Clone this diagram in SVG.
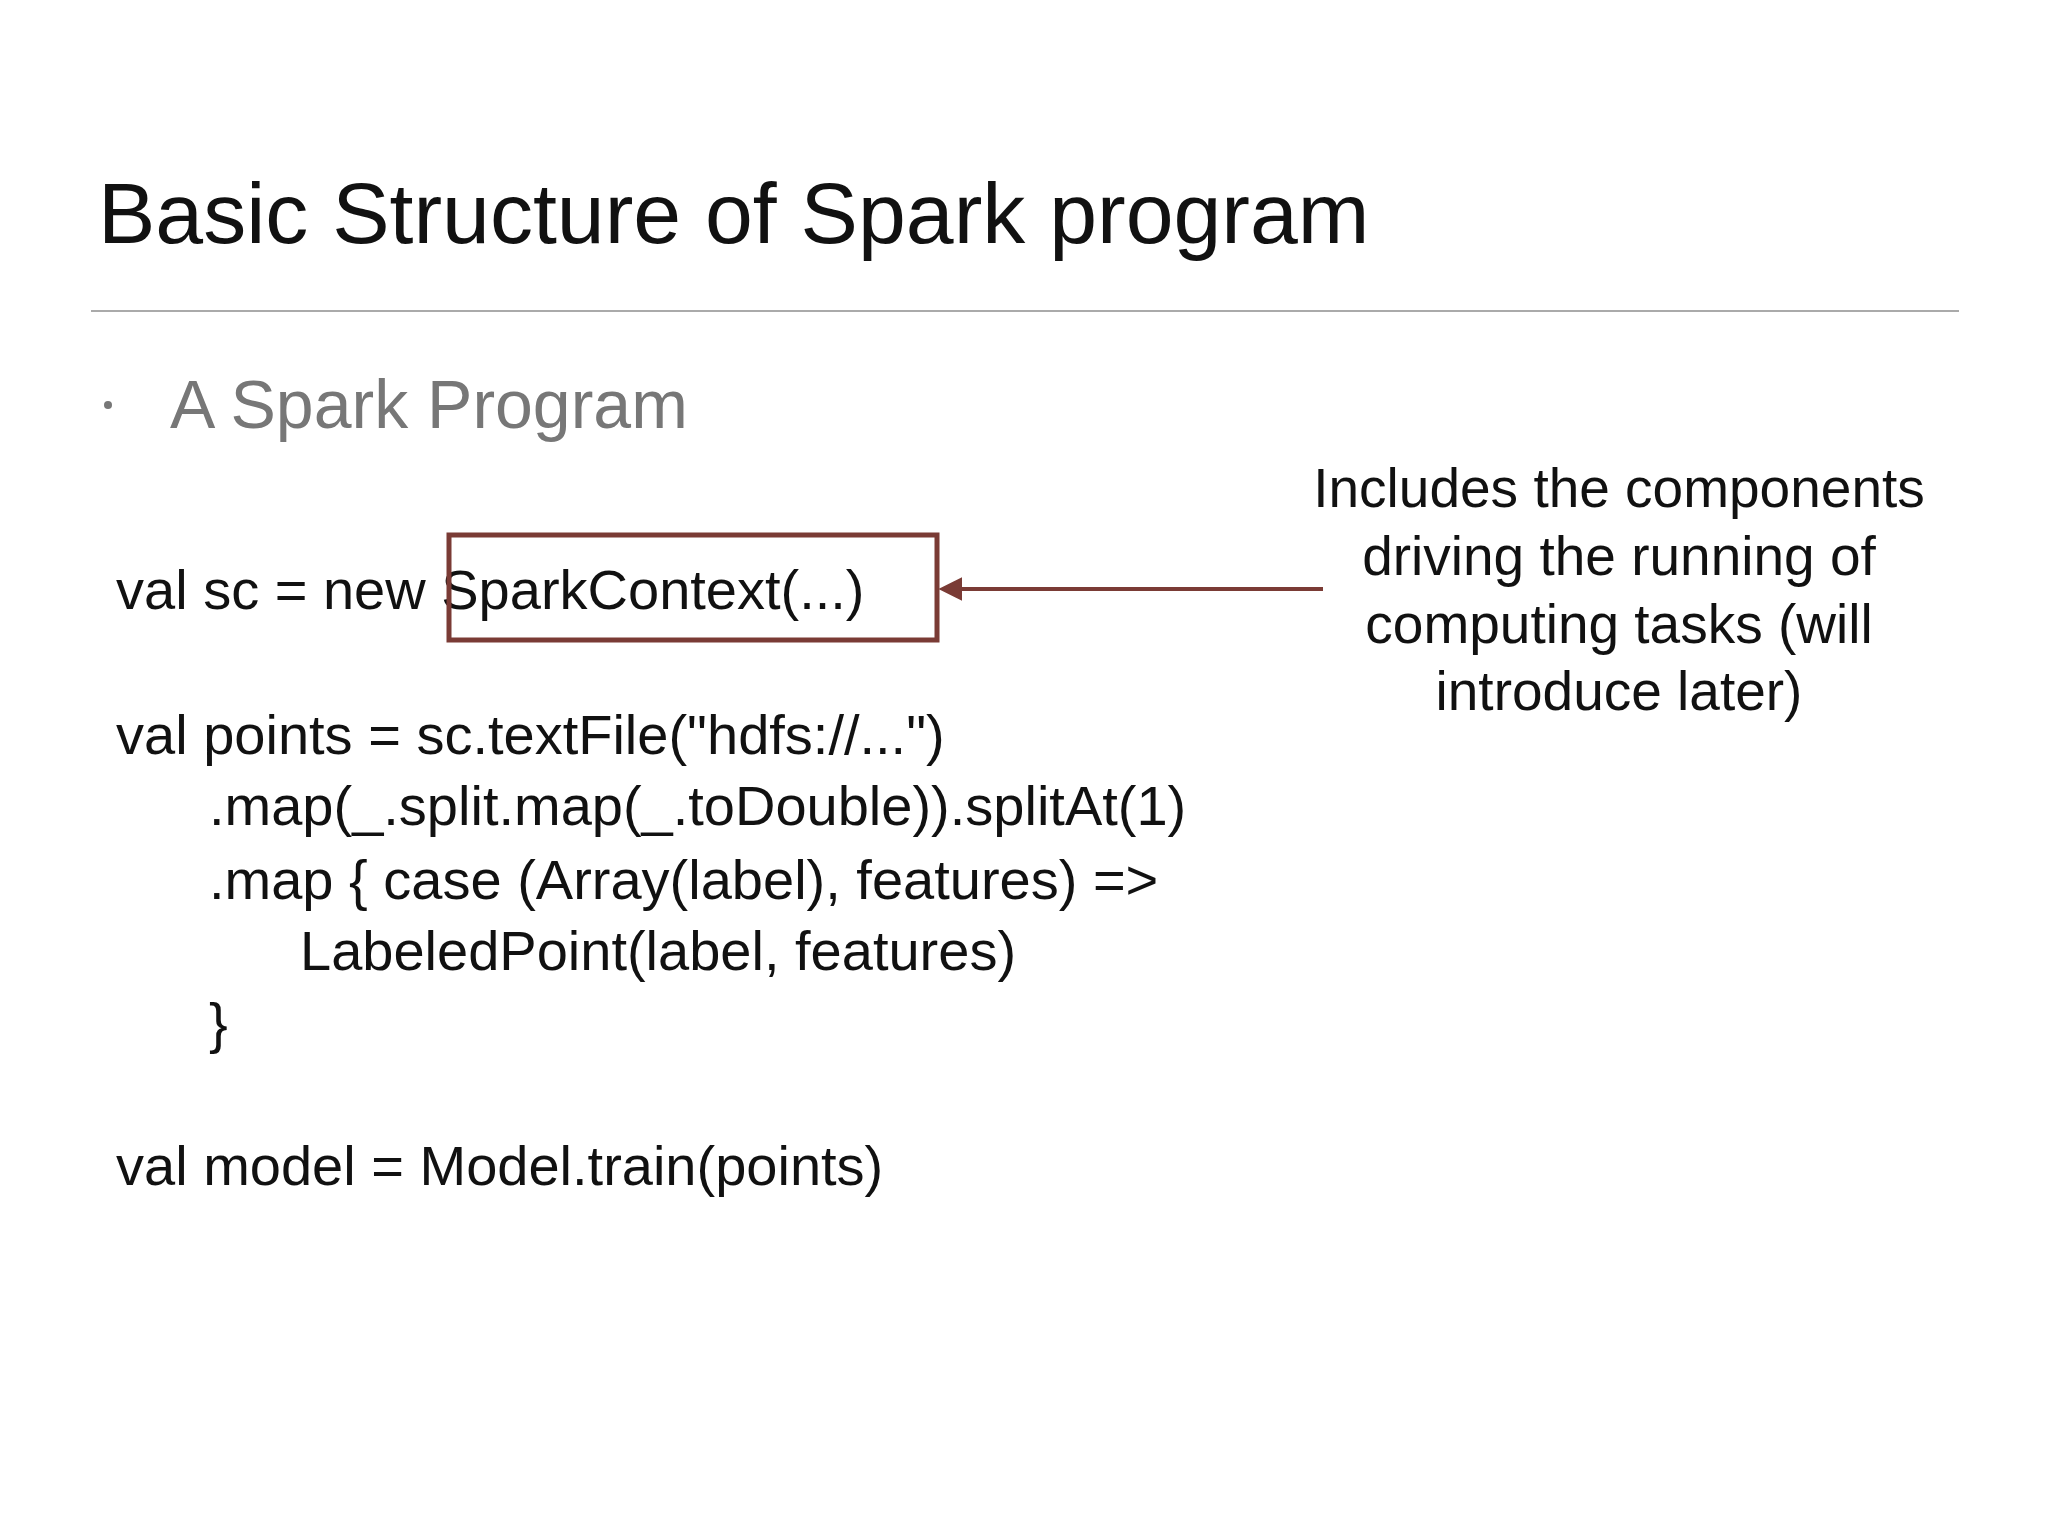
<svg xmlns="http://www.w3.org/2000/svg" width="2048" height="1536" viewBox="0 0 2048 1536">
<defs>
<style>
text{font-family:"Liberation Sans",Arial,sans-serif}
.code{font-size:56px;fill:#111}
.note{font-size:55px;fill:#111;text-anchor:middle}
</style>
<marker id="ah" viewBox="0 0 10 10" refX="1" refY="5" markerWidth="6" markerHeight="6" orient="auto-start-reverse" markerUnits="strokeWidth"><path d="M0,0 L10,5 L0,10 z" fill="#7a3b35"/></marker>
</defs>
<rect width="2048" height="1536" fill="#fff"/>
<text x="98" y="243" font-size="86" fill="#111">Basic Structure of Spark program</text>
<line x1="91" y1="311" x2="1959" y2="311" stroke="#aaa" stroke-width="2"/>
<circle cx="108" cy="405" r="4" fill="#777"/>
<text x="170" y="428" font-size="68" fill="#777">A Spark Program</text>
<g id="code">
<text class="code" x="116" y="609">val sc = new SparkContext(...)</text>
<text class="code" x="116" y="754">val points = sc.textFile("hdfs://...")</text>
<text class="code" x="209" y="825">.map(_.split.map(_.toDouble)).splitAt(1)</text>
<text class="code" x="209" y="899">.map { case (Array(label), features) =&gt;</text>
<text class="code" x="300" y="970">LabeledPoint(label, features)</text>
<text class="code" x="209" y="1042">}</text>
<text class="code" x="116" y="1185">val model = Model.train(points)</text>
</g>
<g id="box"><rect x="449" y="535" width="488" height="105" fill="none" stroke="#7a3b35" stroke-width="5"/></g>
<g id="connectors"><line x1="1323" y1="589" x2="960" y2="589" stroke="#7a3b35" stroke-width="4" marker-end="url(#ah)"/></g>
<g id="note">
<text class="note" x="1619" y="507">Includes the components</text>
<text class="note" x="1619" y="575">driving the running of</text>
<text class="note" x="1619" y="643">computing tasks (will</text>
<text class="note" x="1619" y="710">introduce later)</text>
</g>
</svg>
